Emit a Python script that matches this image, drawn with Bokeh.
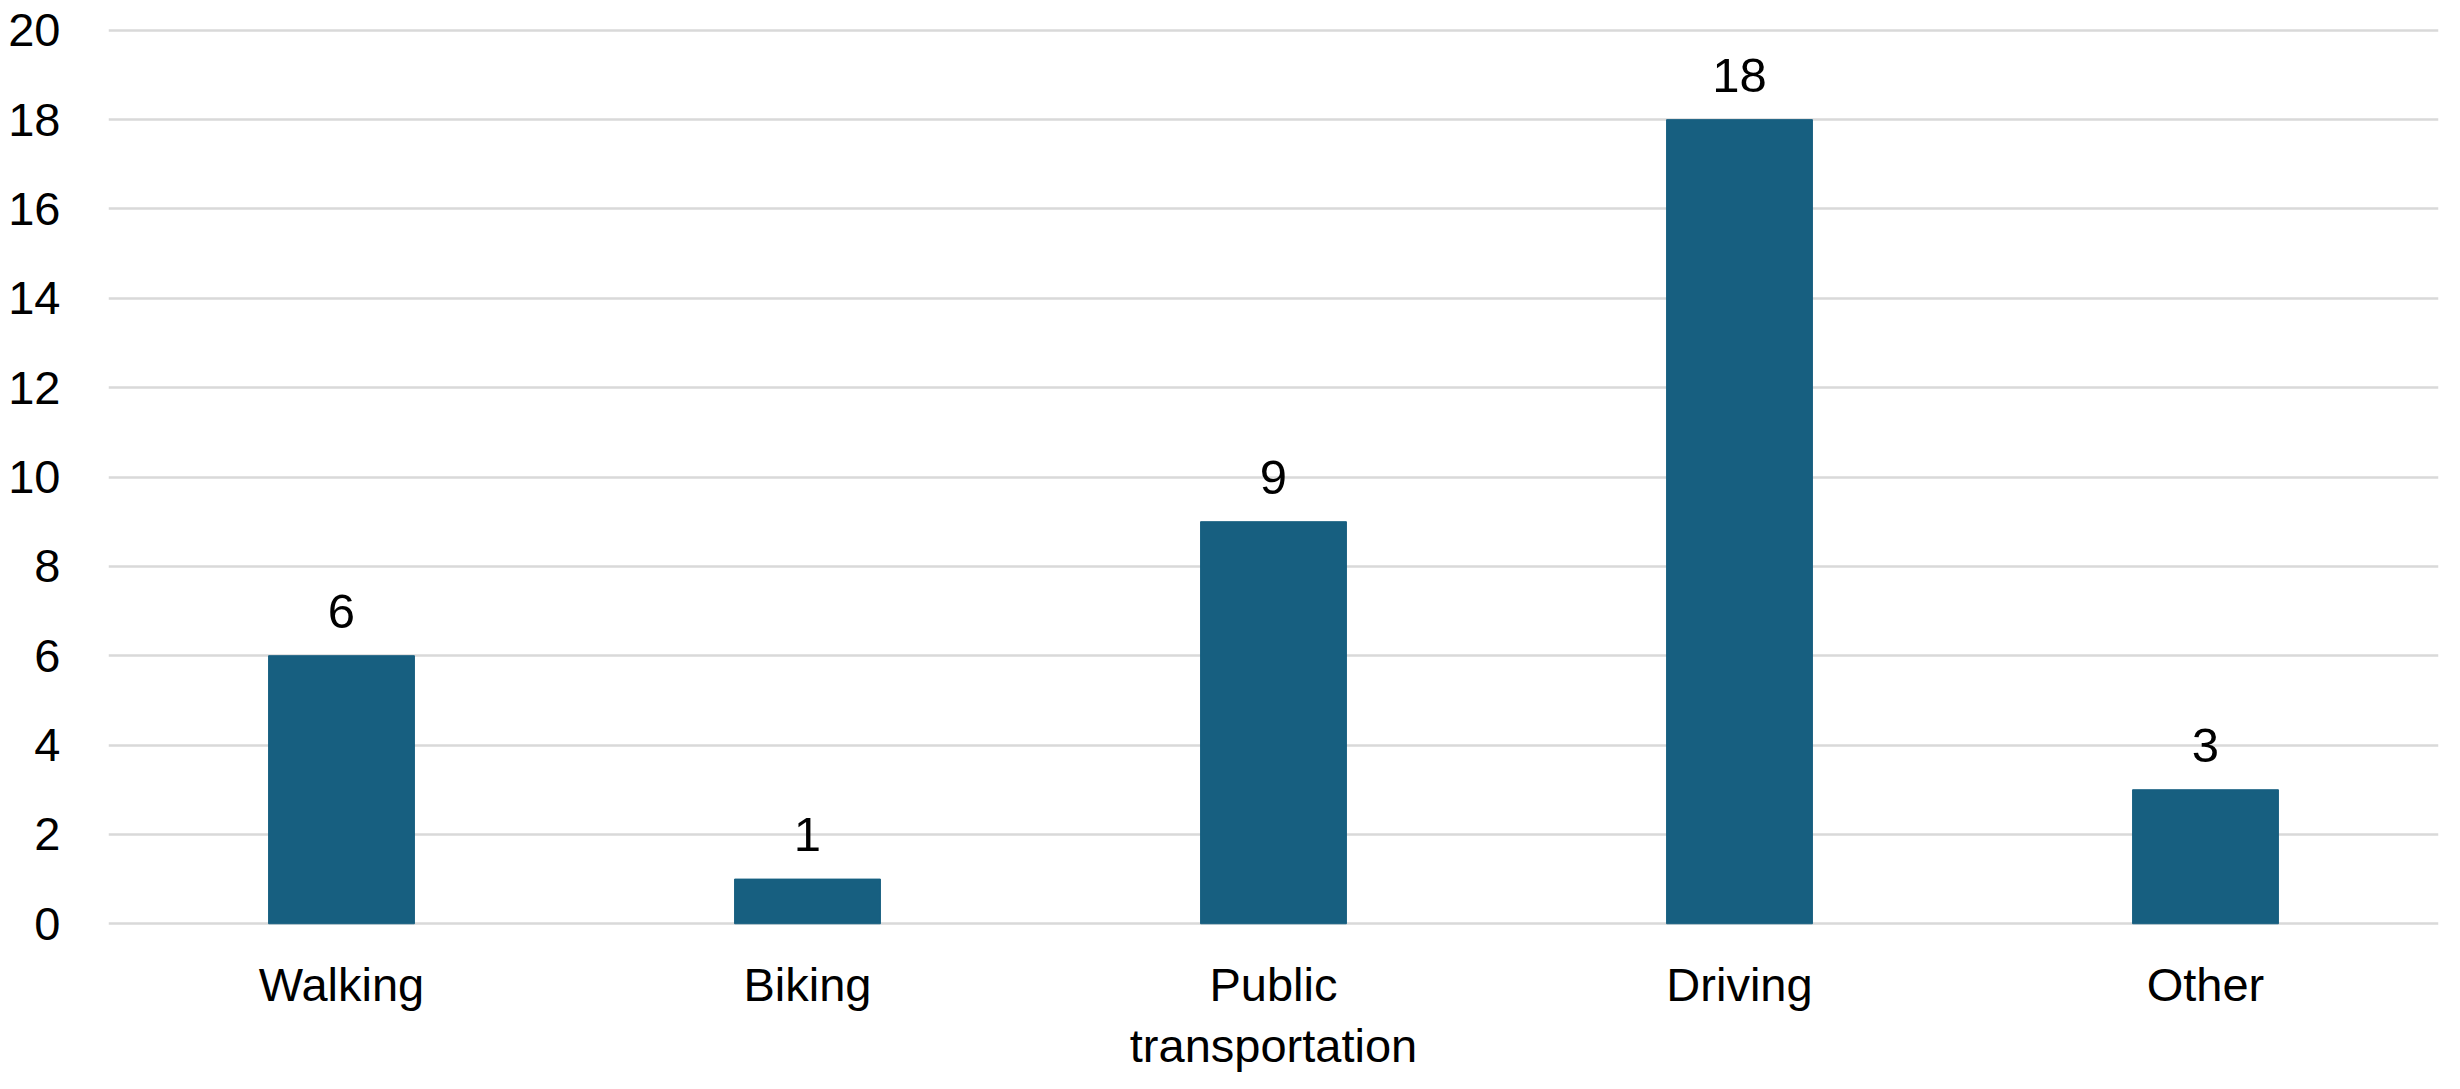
from bokeh.plotting import figure
from bokeh.models import ColumnDataSource, FixedTicker, Range1d
from bokeh.core.properties import value
from bokeh.embed import file_html
from bokeh.resources import INLINE

categories = ["Walking", "Biking", "Public transportation", "Driving", "Other"]
category_labels = ["Walking", "Biking", "Public\ntransportation", "Driving", "Other"]
counts = [6, 1, 9, 18, 3]
y_ticks = [0, 2, 4, 6, 8, 10, 12, 14, 16, 18, 20]
label_text = [str(v) for v in counts]

FONT = "Liberation Sans"
BAR = "#175f80"

W, H = 2444, 1073
TOP = 28          # frame top inside figure
ZERO_PX = 923     # y=0 position inside figure
px_per_unit = (ZERO_PX - TOP) / 20.0
y_bottom = -(H - ZERO_PX) / px_per_unit

src = ColumnDataSource(dict(cat=categories, val=counts, lab=label_text,
                            catlab=category_labels, zero=[0] * len(counts)))

p = figure(x_range=categories, y_range=Range1d(y_bottom, 20.04), width=W, height=H,
           output_backend="svg", toolbar_location=None,
           min_border_left=108, min_border_right=6, min_border_top=TOP, min_border_bottom=0)
p.outline_line_color = None
p.background_fill_color = "white"
p.border_fill_color = "white"

p.ygrid.ticker = FixedTicker(ticks=y_ticks)
p.ygrid.grid_line_color = "#d9d9d9"
p.ygrid.grid_line_width = 2.5
p.xgrid.grid_line_color = None

p.vbar(x="cat", top="val", bottom=0, width=0.313, source=src, color=BAR)
p.text(x="cat", y="val", text="lab", source=src, text_font=value(FONT),
       text_font_size="49px", text_align="center", text_baseline="bottom",
       y_offset=-28, text_color="black")
p.text(x="cat", y="zero", text="catlab", source=src, text_font=value(FONT),
       text_font_size="47px", text_align="center", text_baseline="top",
       y_offset=34, text_line_height=1.15, text_color="black")

p.xaxis.visible = False
p.yaxis.ticker = FixedTicker(ticks=y_ticks)
p.yaxis.axis_line_color = None
p.yaxis.major_tick_line_color = None
p.yaxis.minor_tick_line_color = None
p.yaxis.major_label_text_font = FONT
p.yaxis.major_label_text_font_size = "47px"
p.yaxis.major_label_text_color = "black"
p.yaxis.major_label_standoff = 42

open("out.html", "w").write(file_html(p, INLINE))
